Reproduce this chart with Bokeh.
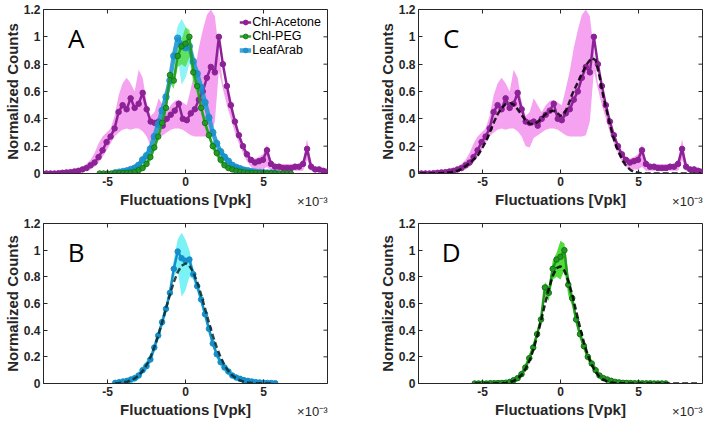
import numpy as np
from bokeh.plotting import figure
from bokeh.models import (Range1d, FixedTicker, CustomJSTickFormatter,
                          Label, Legend, LegendItem, Title)
from bokeh.layouts import row, column
from bokeh.embed import file_html
from bokeh.resources import INLINE

# ---------------- data (x in units of 1e-3 Vpk) ----------------
ace_x = np.round(-9.17 + 0.257 * np.arange(72), 3)
ace_y = [0.0, 0.0, 0.0, 0.0, 0.002, 0.005, 0.008, 0.01, 0.015, 0.02, 0.03, 0.04,
         0.06, 0.08, 0.12, 0.17, 0.23, 0.27, 0.33, 0.45, 0.5, 0.47, 0.55, 0.48,
         0.51, 0.59, 0.47, 0.38, 0.37, 0.38, 0.35, 0.4, 0.43, 0.46, 0.51, 0.4,
         0.39, 0.44, 0.47, 0.54, 0.6, 0.7, 0.78, 0.74, 1.0, 0.8, 0.64, 0.5,
         0.38, 0.28, 0.2, 0.14, 0.1, 0.08, 0.09, 0.1, 0.17, 0.07, 0.05, 0.05,
         0.04, 0.04, 0.04, 0.05, 0.05, 0.07, 0.18, 0.05, 0.03, 0.03, 0.02, 0.01]
ace_lo = [0, 0, 0, 0, 0.0, 0.0, 0.002, 0.004, 0.006, 0.01, 0.015, 0.02,
          0.03, 0.05, 0.08, 0.12, 0.17, 0.22, 0.27, 0.3, 0.32, 0.33, 0.32, 0.33,
          0.33, 0.31, 0.27, 0.2, 0.19, 0.26, 0.28, 0.3, 0.32, 0.33, 0.33, 0.32,
          0.3, 0.28, 0.27, 0.27, 0.27, 0.27, 0.28, 0.38, 0.75, 0.62, 0.5, 0.4,
          0.3, 0.22, 0.15, 0.09, 0.05, 0.03, 0.03, 0.03, 0.05, 0.02, 0.02, 0.02,
          0.02, 0.02, 0.02, 0.02, 0.02, 0.02, 0.1, 0.02, 0.01, 0.01, 0.01, 0.01]
ace_hi = [0.01, 0.01, 0.01, 0.01, 0.015, 0.015, 0.02, 0.02, 0.025, 0.035, 0.05, 0.07,
          0.1, 0.15, 0.22, 0.27, 0.3, 0.33, 0.42, 0.57, 0.66, 0.7, 0.66, 0.6,
          0.76, 0.7, 0.52, 0.42, 0.45, 0.55, 0.5, 0.45, 0.5, 0.53, 0.54, 0.52,
          0.5, 0.62, 0.75, 0.92, 1.05, 1.16, 1.2, 1.15, 0.9, 0.66, 0.6, 0.5,
          0.4, 0.3, 0.22, 0.16, 0.12, 0.11, 0.12, 0.14, 0.21, 0.1, 0.07, 0.07,
          0.07, 0.07, 0.07, 0.07, 0.07, 0.1, 0.25, 0.08, 0.04, 0.04, 0.04, 0.04]
acefit_x = np.round(np.arange(-9.0, 9.001, 0.25), 2)
acefit_y = [0, 0, 0, 0, 0, 0.002, 0.004, 0.006,
            0.01, 0.015, 0.025, 0.04, 0.06, 0.08, 0.11, 0.14, 0.19, 0.24, 0.31, 0.38,
            0.44, 0.48, 0.51, 0.515, 0.505, 0.47, 0.43, 0.39, 0.365, 0.36, 0.375, 0.4,
            0.43, 0.45, 0.46, 0.45, 0.42, 0.44, 0.5, 0.58, 0.64, 0.7, 0.76, 0.81,
            0.845, 0.83, 0.71, 0.56, 0.44, 0.32, 0.22, 0.15, 0.09, 0.05, 0.025, 0.01,
            0.005,
            0, 0, 0, 0, 0, 0, 0, 0, 0, 0, 0, 0, 0, 0, 0, 0]

leaf_x = np.round(np.arange(-4.5, 5.751, 0.25), 2)
leaf_y = [0.005, 0.01, 0.015, 0.02, 0.03, 0.04, 0.06, 0.1, 0.13, 0.18, 0.27, 0.36,
          0.46, 0.56, 0.68, 0.86, 0.99, 0.94, 0.92, 0.93, 0.82, 0.73, 0.63, 0.52,
          0.41, 0.3, 0.22, 0.16, 0.12, 0.09, 0.06, 0.045, 0.035, 0.025, 0.02, 0.015,
          0.01, 0.008, 0.006, 0.004, 0.003, 0.002]
leaf_lo = [0, 0, 0, 0, 0.005, 0.01, 0.03, 0.07, 0.1, 0.15, 0.23, 0.32,
           0.42, 0.52, 0.64, 0.8, 0.85, 0.65, 0.7, 0.8, 0.78, 0.69, 0.59, 0.48,
           0.37, 0.27, 0.19, 0.13, 0.09, 0.06, 0.04, 0.025, 0.015, 0.01, 0.005, 0.003,
           0, 0, 0, 0, 0, 0]
leaf_hi = [0.015, 0.02, 0.03, 0.035, 0.05, 0.07, 0.09, 0.13, 0.17, 0.22, 0.31, 0.4,
           0.5, 0.6, 0.73, 0.93, 1.08, 1.13, 1.08, 1.0, 0.86, 0.77, 0.67, 0.56,
           0.45, 0.34, 0.25, 0.19, 0.15, 0.12, 0.08, 0.065, 0.055, 0.045, 0.035, 0.03,
           0.025, 0.02, 0.018, 0.015, 0.012, 0.01]
leaffit_x = np.round(np.arange(-4.5, 5.501, 0.25), 2)
leaffit_y = [0.002, 0.004, 0.007, 0.013, 0.023, 0.038, 0.06, 0.093, 0.138, 0.197,
             0.271, 0.359, 0.458, 0.563, 0.667, 0.76, 0.835, 0.883, 0.9,
             0.883, 0.835, 0.76, 0.667, 0.563, 0.458, 0.359, 0.271, 0.197, 0.138,
             0.093, 0.06, 0.038, 0.023, 0.013, 0.007, 0.004, 0.002, 0.001, 0.001, 0, 0]

peg_x = np.round(np.arange(-5.5, 6.751, 0.25), 2)
peg_y = [0, 0, 0, 0, 0.002, 0.002, 0.003, 0.004, 0.006, 0.012, 0.025, 0.04,
         0.07, 0.12, 0.19, 0.27, 0.37, 0.48, 0.72, 0.68, 0.86, 0.93, 0.95, 1.0,
         0.74, 0.64, 0.48, 0.37, 0.28, 0.2, 0.15, 0.1, 0.06, 0.04, 0.03, 0.02,
         0.012, 0.008, 0.005, 0.004, 0.003, 0.002, 0.002, 0.001, 0.001, 0.001,
         0, 0, 0, 0]
peg_lo = [0, 0, 0, 0, 0, 0, 0, 0, 0, 0, 0.005, 0.02, 0.045, 0.09, 0.16, 0.24,
          0.34, 0.45, 0.66, 0.62, 0.78, 0.8, 0.78, 0.85, 0.66, 0.58, 0.44, 0.33,
          0.25, 0.17, 0.12, 0.07, 0.04, 0.02, 0.015, 0.01, 0.004, 0.002,
          0, 0, 0, 0, 0, 0, 0, 0, 0, 0, 0, 0]
peg_hi = [0.005, 0.005, 0.005, 0.005, 0.008, 0.008, 0.01, 0.012, 0.015, 0.025,
          0.04, 0.06, 0.095, 0.15, 0.22, 0.3, 0.4, 0.51, 0.76, 0.73, 0.92, 0.98,
          1.07, 1.05, 0.82, 0.69, 0.52, 0.41, 0.31, 0.23, 0.18, 0.13, 0.08, 0.06,
          0.045, 0.035, 0.025, 0.018, 0.014, 0.012, 0.01, 0.008, 0.008, 0.006,
          0.006, 0.005, 0.005, 0.005, 0.005, 0.005]
pegfit_x = np.round(np.arange(-5.5, 8.751, 0.25), 2)
pegfit_y = [0, 0, 0, 0, 0, 0,
            0.001, 0.002, 0.004, 0.01, 0.02, 0.037, 0.064, 0.107, 0.167, 0.249,
            0.352, 0.469, 0.593, 0.71, 0.806, 0.865, 0.879, 0.846, 0.771, 0.666,
            0.544, 0.421, 0.308, 0.214, 0.14, 0.087, 0.051, 0.029, 0.015, 0.008,
            0.004, 0.002, 0.001,
            0, 0, 0, 0, 0, 0, 0, 0, 0, 0, 0, 0, 0, 0, 0, 0, 0, 0, 0]

x_ticks = [-5, 0, 5]
y_ticks = [0, 0.2, 0.4, 0.6, 0.8, 1, 1.2]
X_LIM = (-9.1, 9.1)
Y_LIM = (0, 1.2)
SCALE_TXT = "\u00d710\u207b\u00b3"

PURPLE = "#8c2296"
PINK = "#f5a2f1"
BLUE = "#168ecb"
CYAN = "#7af2f6"
GREEN = "#1f9a1f"
GREEN_EDGE = "#17701a"
LGREEN = "#52dc3c"
AX = "#262626"
FONT = "Liberation Sans"


def make_fig(letter, fh, bl, br, bt, bb):
    p = figure(frame_width=284, frame_height=fh,
               x_range=Range1d(*X_LIM), y_range=Range1d(*Y_LIM),
               output_backend="svg", toolbar_location=None,
               min_border_left=bl, min_border_right=br,
               min_border_top=bt, min_border_bottom=bb)
    p.grid.visible = False
    p.outline_line_color = AX
    p.outline_line_width = 1
    p.xaxis.ticker = FixedTicker(ticks=x_ticks)
    p.yaxis.ticker = FixedTicker(ticks=y_ticks)
    p.xaxis.formatter = CustomJSTickFormatter(code="return tick.toFixed(0);")
    p.yaxis.formatter = CustomJSTickFormatter(
        code="return (Math.round(tick*10)/10).toString();")
    for ax in (p.xaxis[0], p.yaxis[0]):
        ax.major_tick_in = 4
        ax.major_tick_out = 0
        ax.minor_tick_line_color = None
        ax.axis_line_color = AX
        ax.major_tick_line_color = AX
        ax.major_label_text_font = FONT
        ax.major_label_text_font_style = "bold"
        ax.major_label_text_font_size = "12px"
        ax.major_label_text_color = AX
        ax.axis_label_text_font = FONT
        ax.axis_label_text_font_style = "bold"
        ax.axis_label_text_font_size = "15px"
        ax.axis_label_text_color = AX
    p.xaxis.major_label_standoff = 3
    p.yaxis.major_label_standoff = 3
    p.xaxis.axis_label_standoff = 2
    p.yaxis.axis_label_standoff = 0
    p.xaxis.axis_label = "Fluctuations [Vpk]"
    p.yaxis.axis_label = "Normalized Counts"
    p.ray(x=x_ticks, y=[Y_LIM[1]] * len(x_ticks), length=4, length_units="screen",
          angle=-np.pi / 2, line_color=AX, line_width=1)
    p.ray(x=[X_LIM[1]] * len(y_ticks), y=y_ticks, length=4, length_units="screen",
          angle=np.pi, line_color=AX, line_width=1)
    p.add_layout(Label(x=-7.0, y=0.99, text=letter, text_font="Open Sans",
                       text_font_size="26px", text_align="center",
                       text_baseline="middle", text_color="black"))
    p.add_layout(Title(text=SCALE_TXT, align="right", vertical_align="top",
                       text_font=FONT, text_font_size="13px", text_font_style="normal",
                       text_color=AX, standoff=-34), "below")
    return p


def dotted(p, x, y, color, edge=None, lw=2.5, size=5.5, alpha=1.0):
    edge = edge or color
    r1 = p.line(x, y, line_color=color, line_width=lw, line_alpha=alpha)
    r2 = p.scatter(x, y, marker="circle", size=size, fill_color=color,
                   line_color=edge, fill_alpha=alpha, line_alpha=alpha)
    return [r1, r2]


# ---------------- panel A ----------------
pA = make_fig("A", 164, 37, 33, 9, 33)
pA.varea(ace_x, ace_lo, ace_hi, fill_color=PINK)
pA.varea(leaf_x, leaf_lo, leaf_hi, fill_color=CYAN, fill_alpha=0.85)
pA.varea(peg_x, peg_lo, peg_hi, fill_color=LGREEN, fill_alpha=0.8)
rA = dotted(pA, ace_x, ace_y, PURPLE)
rL = dotted(pA, leaf_x, leaf_y, BLUE, lw=4.5, size=6.5, alpha=0.8)
rP = dotted(pA, peg_x, peg_y, GREEN, edge=GREEN_EDGE, alpha=0.9)
leg = Legend(items=[LegendItem(label="Chl-Acetone", renderers=rA),
                    LegendItem(label="Chl-PEG", renderers=rP),
                    LegendItem(label="LeafArab", renderers=rL)],
             location="top_right", label_text_font=FONT, label_text_font_size="12.5px",
             label_text_color="black", glyph_width=12, glyph_height=12,
             label_standoff=1, spacing=0, padding=2, margin=6,
             border_line_color=None, background_fill_alpha=0)
pA.add_layout(leg)

# ---------------- panel C ----------------
pC = make_fig("C", 164, 58, 4, 9, 33)
pC.varea(ace_x, ace_lo, ace_hi, fill_color=PINK)
dotted(pC, ace_x, ace_y, PURPLE)
pC.line(acefit_x, acefit_y, line_color="black", line_width=2.5, line_dash="6 3",
        line_alpha=0.85)

# ---------------- panel B ----------------
pB = make_fig("B", 160, 37, 33, 13, 33)
pB.varea(leaf_x, leaf_lo, leaf_hi, fill_color=CYAN)
dotted(pB, leaf_x, leaf_y, BLUE)
pB.line(leaffit_x, leaffit_y, line_color="#0c2a2a", line_width=2.5, line_dash="6 3",
        line_alpha=0.85)

# ---------------- panel D ----------------
pD = make_fig("D", 160, 58, 4, 13, 33)
pD.varea(peg_x, peg_lo, peg_hi, fill_color=LGREEN)
dotted(pD, peg_x, peg_y, GREEN, edge=GREEN_EDGE)
pD.line(pegfit_x, pegfit_y, line_color="black", line_width=2.5, line_dash="6 3",
        line_alpha=0.85)

layout = column(row(pA, pC), row(pB, pD))
open("out.html", "w").write(file_html(layout, INLINE))
